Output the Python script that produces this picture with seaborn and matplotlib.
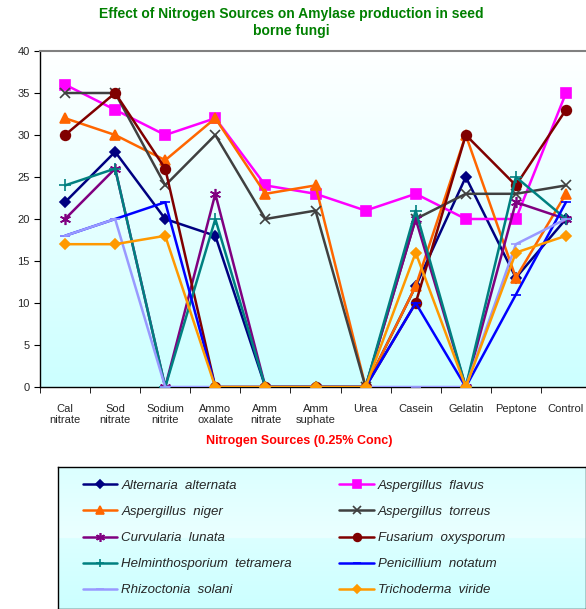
import numpy as np
import pandas as pd
import matplotlib
matplotlib.use('Agg')
import matplotlib.pyplot as plt
from matplotlib.colors import LinearSegmentedColormap
import seaborn as sns

# nitrogen sources (x categories)
sources = ['Cal\nnitrate', 'Sod\nnitrate', 'Sodium\nnitrite', 'Ammo\noxalate', 'Amm\nnitrate',
           'Amm\nsuphate', 'Urea', 'Casein', 'Gelatin', 'Peptone', 'Control']

# amylase production per fungus
alternaria = [22, 28, 20, 18, 0, 0, 0, 12, 25, 13, 20]
flavus = [36, 33, 30, 32, 24, 23, 21, 23, 20, 20, 35]
niger = [32, 30, 27, 32, 23, 24, 0, 12, 30, 13, 23]
torreus = [35, 35, 24, 30, 20, 21, 0, 20, 23, 23, 24]
curvularia = [20, 26, 0, 23, 0, 0, 0, 20, 0, 22, 20]
fusarium = [30, 35, 26, 0, 0, 0, 0, 10, 30, 24, 33]
helmintho = [24, 26, 0, 20, 0, 0, 0, 21, 0, 25, 20]
penicillium = [18, 20, 22, 0, 0, 0, 0, 10, 0, 11, 22]
rhizoctonia = [18, 20, 0, 0, 0, 0, 0, 0, 0, 17, 20]
trichoderma = [17, 17, 18, 0, 0, 0, 0, 16, 0, 16, 18]

fungi = ['Alternaria  alternata', 'Aspergillus  flavus', 'Aspergillus  niger', 'Aspergillus  torreus',
         'Curvularia  lunata', 'Fusarium  oxysporum', 'Helminthosporium  tetramera',
         'Penicillium  notatum', 'Rhizoctonia  solani', 'Trichoderma  viride']
values = [alternaria, flavus, niger, torreus, curvularia, fusarium, helmintho,
          penicillium, rhizoctonia, trichoderma]

colors = ['#000080', '#ff00ff', '#ff6600', '#404040', '#800080', '#800000', '#008080',
          '#0000ff', '#9999ff', '#ff9900']
markers = ['D', 's', '^', 'x', (6, 2, 0), 'o', '+', '_', '_', 'D']
msizes = [5, 7, 7, 7, 8, 7, 8, 7, 7, 5]

rows = []
for name, vals in zip(fungi, values):
    for i, v in enumerate(vals):
        rows.append({'fungus': name, 'x': i, 'val': v})
df = pd.DataFrame(rows)

sns.set_style('white')
plt.rcParams['font.family'] = ['Liberation Sans', 'DejaVu Sans']

fig = plt.figure(figsize=(5.86, 6.09), dpi=100)
ax = fig.add_axes([40 / 586, 1 - 387 / 609, 1 - 40 / 586, (387 - 51) / 609])

# background gradient white (top) -> light cyan (bottom)
cmap = LinearSegmentedColormap.from_list('bg', ['#ffffff', '#ccffff'])
grad = np.linspace(0, 1, 256).reshape(-1, 1)
ax.imshow(grad, cmap=cmap, aspect='auto', origin='upper', extent=[-0.5, 10.4, 0, 40], zorder=0)

for k, name in enumerate(fungi):
    sub = df[df['fungus'] == name]
    sns.lineplot(data=sub, x='x', y='val', ax=ax, color=colors[k], marker=markers[k],
                 markersize=msizes[k], markeredgecolor=colors[k], markeredgewidth=1.2,
                 linewidth=1.8, label=name, zorder=3 + k)

ax.set_xlim(-0.5, 10.4)
ax.set_ylim(0, 40)
ax.set_yticks(range(0, 41, 5))
ax.set_xticks(range(11))
ax.set_xticklabels(sources, fontsize=8)
ax.set_xticks(np.arange(-0.5, 10.5, 1), minor=True)
ax.tick_params(axis='x', which='major', length=0, pad=12)
ax.tick_params(axis='x', which='minor', length=4, direction='out', color='black', bottom=True)
ax.tick_params(axis='y', length=4, direction='out', color='black', left=True, labelsize=8)
ax.set_xlabel('')
ax.set_ylabel('')
ax.get_legend().remove()
for s in ['left', 'bottom']:
    ax.spines[s].set_color('black')
    ax.spines[s].set_linewidth(1)
ax.spines['top'].set_color('#808080')
ax.spines['top'].set_linewidth(1.5)
ax.spines['right'].set_visible(False)

fig.text(291 / 586, 1 - 14 / 609, 'Effect of Nitrogen Sources on Amylase production in seed',
         color='#008000', fontsize=10, fontweight='bold', ha='center', va='center')
fig.text(291 / 586, 1 - 31 / 609, 'borne fungi',
         color='#008000', fontsize=10, fontweight='bold', ha='center', va='center')
fig.text(299 / 586, 1 - 441 / 609, 'Nitrogen Sources (0.25% Conc)',
         color='#ff0000', fontsize=9, fontweight='bold', ha='center', va='center')

# legend box
lax = fig.add_axes([58 / 586, 0, 1 - 58 / 586, (609 - 467) / 609])
lax.imshow(np.concatenate([grad[::-1][128:], grad[128:]]) * 0.6 + 0.4, cmap=cmap, vmin=0, vmax=1,
           aspect='auto', extent=[0, 1, 0, 1])
lax.set_xticks([])
lax.set_yticks([])
for s in lax.spines.values():
    s.set_color('black')
    s.set_linewidth(1)

handles, labels = ax.get_legend_handles_labels()
order = [0, 2, 4, 6, 8, 1, 3, 5, 7, 9]
lax.legend([handles[i] for i in order], [labels[i] for i in order], ncol=2,
           loc='center left', bbox_to_anchor=(0.025, 0.5), frameon=False,
           prop={'style': 'italic', 'size': 9.5}, handlelength=2.6, handletextpad=0.3,
           labelspacing=1.05, columnspacing=3.6, markerscale=0.8)

fig.savefig('out.png', dpi=100)
